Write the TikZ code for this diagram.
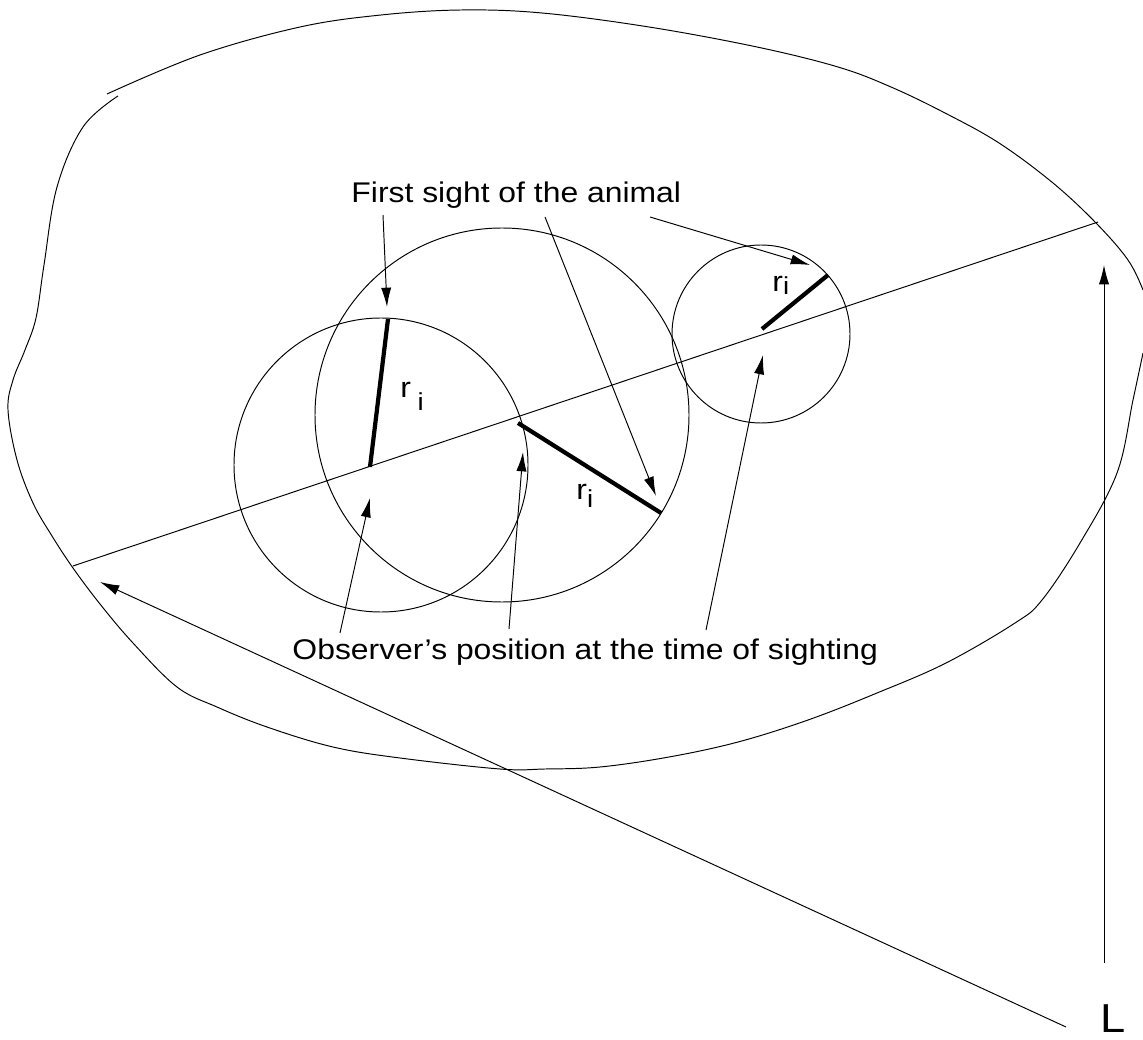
\documentclass[tikz,border=0pt]{standalone}
\usepackage{fontspec}
\setmainfont{Liberation Sans}[FakeStretch=1.12]
\usetikzlibrary{arrows.meta}

\begin{document}
\begin{tikzpicture}[x=0.02cm, y=-0.02cm, line width=0.55pt,
    >={Latex[length=11pt,width=5.8pt]},
    nhan/.style={inner sep=0pt, anchor=base west, font=\fontsize{16.2}{18}\selectfont},
    bankinh/.style={line width=2.4pt}]
    \useasboundingbox (0,0) rectangle (1143,1040);
    % Circle radii (pixels)
    \def\rA{147}
    \def\rB{187}
    \def\rC{89}

    % --- Boundary of the survey area ---
    \draw plot[smooth, tension=0.6] coordinates {(107,94) (200,55) (300,27) (381,15) (461,10) (542,13) (649,27) (757,47) (838,67) (891,87) (945,113) (999,143) (1053,183) (1096,223) (1128,260) (1143,290)};
    \draw plot[smooth, tension=0.6] coordinates {(1143,353) (1133,400) (1117,473) (1080,543) (1042,600) (1015,623) (946,663) (877,693) (808,720) (738,742) (669,757) (600,767) (545,769) (500,769) (400,758) (333,747) (267,727) (217,707) (177,687) (133,643) (100,604) (73,568) (52,536) (33,503) (17,460) (8,410) (13,380) (25,350) (36,318) (44,265) (57,187) (83,127) (118,96)};

    % --- Transect line ---
    \coordinate (dau) at (73,566);
    \coordinate (cuoi) at (1098,222);
    \draw (dau) -- (cuoi);

    % --- Circles of radius r_i round each observer position ---
    \draw (381,465) circle[radius=\rA];
    \draw (502,415) circle[radius=\rB];
    \draw (761,334) circle[radius=\rC];

    % Observer positions and first sightings
    \coordinate (obsA) at (370,467);
    \coordinate (senA) at (388,319);
    \coordinate (obsB) at (518,423);
    \coordinate (senB) at (661,513);
    \coordinate (obsC) at (762,329);
    \coordinate (senC) at (828,275);
    \draw[bankinh] (obsA) -- (senA);
    \draw[bankinh] (obsB) -- (senB);
    \draw[bankinh] (obsC) -- (senC);

    % Labels r_i
    \node[nhan] (rA) at (400,398) {r\hspace{3.7pt}\raisebox{-7.4pt}{\fontsize{14}{14}\selectfont i}};
    \node[nhan] (rB) at (576,500) {r\raisebox{-4pt}{\fontsize{14}{14}\selectfont i}};
    \node[nhan] (rC) at (772,292) {r\raisebox{-1.7pt}{\fontsize{14}{14}\selectfont i}};

    % --- First sight of the animal ---
    \node[nhan] (sight) at (351,203) {First sight of the animal};
    \coordinate (s1) at (383,215);
    \coordinate (s2) at (545,217);
    \coordinate (s3) at (650,217);
    \coordinate (t1) at (387,307);
    \coordinate (t2) at (656,496);
    \coordinate (t3) at (810,265);
    \draw[->] (s1) -- (t1);
    \draw[->] (s2) -- (t2);
    \draw[->] (s3) -- (t3);

    % --- Observer's position ---
    \node[nhan] (obs) at (292,659) {Observer’s position at the time of sighting};
    \coordinate (o1) at (340,633);
    \coordinate (o2) at (509,629);
    \coordinate (o3) at (706,630);
    \coordinate (p1) at (370,498);
    \coordinate (p2) at (523,452);
    \coordinate (p3) at (763,355);
    \draw[->] (o1) -- (p1);
    \draw[->] (o2) -- (p2);
    \draw[->] (o3) -- (p3);

    % --- Transect length L ---
    \node[nhan, font=\fontsize{23}{24}\selectfont] (L) at (1100,1032) {L};
    \coordinate (l1) at (1066,1027);
    \coordinate (l2) at (1104,963);
    \coordinate (m1) at (100,582);
    \coordinate (m2) at (1104,265);
    \draw[->] (l1) -- (m1);
    \draw[->] (l2) -- (m2);
\end{tikzpicture}
\end{document}
